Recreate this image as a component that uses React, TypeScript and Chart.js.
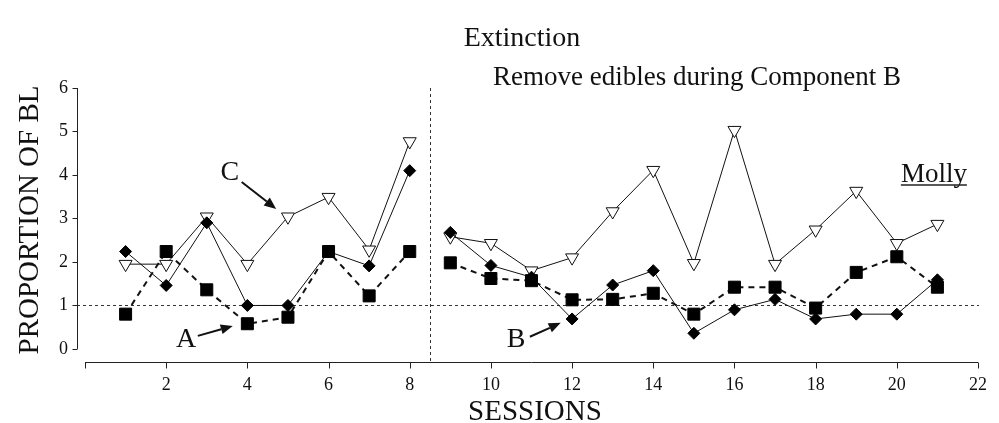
import React, { useEffect, useRef } from 'react';
import { Chart, registerables } from 'chart.js';

Chart.register(...registerables);

const sessions = [1, 2, 3, 4, 5, 6, 7, 8, 9, 10, 11, 12, 13, 14, 15, 16, 17, 18, 19, 20, 21];
const diamondValues = [2.24, 1.46, 2.9, 1.0, 1.0, 2.24, 1.91, 4.1, 2.68, 1.92, 1.65, 0.69, 1.47, 1.8, 0.36, 0.9, 1.14, 0.69, 0.8, 0.8, 1.59];
const squareValues = [0.8, 2.24, 1.36, 0.58, 0.73, 2.24, 1.22, 2.24, 1.98, 1.62, 1.57, 1.13, 1.14, 1.28, 0.8, 1.42, 1.42, 0.94, 1.76, 2.12, 1.42];
const triangleValues = [1.95, 1.95, 3.04, 1.95, 3.04, 3.49, 2.28, 4.77, 2.58, 2.43, 1.8, 2.1, 3.16, 4.11, 1.97, 5.03, 1.95, 2.74, 3.63, 2.43, 2.87];
const phaseOneCount = 8;
const phaseBreak = 8.5;
const criterionLine = 1;
const xTickValues = [0, 2, 4, 6, 8, 10, 12, 14, 16, 18, 20, 22];
const yTickValues = [0, 1, 2, 3, 4, 5, 6];

const SERIF = "'Liberation Serif', 'Times New Roman', serif";

function toPoints(values: number[], start: number, end: number) {
  return sessions.slice(start, end).map((s, i) => ({ x: s, y: values[start + i] }));
}

function drawArrow(ctx: CanvasRenderingContext2D, x1: number, y1: number, x2: number, y2: number) {
  const ang = Math.atan2(y2 - y1, x2 - x1);
  const head = 12;
  const half = 5;
  const bx = x2 - head * Math.cos(ang);
  const by = y2 - head * Math.sin(ang);
  ctx.save();
  ctx.strokeStyle = '#111';
  ctx.fillStyle = '#111';
  ctx.lineWidth = 2;
  ctx.beginPath();
  ctx.moveTo(x1, y1);
  ctx.lineTo(bx, by);
  ctx.stroke();
  ctx.beginPath();
  ctx.moveTo(x2, y2);
  ctx.lineTo(bx + half * Math.sin(ang), by - half * Math.cos(ang));
  ctx.lineTo(bx - half * Math.sin(ang), by + half * Math.cos(ang));
  ctx.closePath();
  ctx.fill();
  ctx.restore();
}

const decorPlugin = {
  id: 'decor',
  beforeDatasetsDraw(chart: any) {
    const { ctx, chartArea, scales } = chart;
    const xs = scales.x;
    const ys = scales.y;
    ctx.save();
    ctx.strokeStyle = '#333';
    ctx.lineWidth = 1;
    ctx.setLineDash([3, 3]);
    const yc = Math.round(ys.getPixelForValue(criterionLine)) + 0.5;
    ctx.beginPath();
    ctx.moveTo(chartArea.left - 8, yc);
    ctx.lineTo(xs.getPixelForValue(22) + 1, yc);
    ctx.stroke();
    const xb = Math.round(xs.getPixelForValue(phaseBreak)) + 0.5;
    ctx.beginPath();
    ctx.moveTo(xb, chartArea.top);
    ctx.lineTo(xb, chartArea.bottom);
    ctx.stroke();
    ctx.restore();
  },
  afterDraw(chart: any) {
    const { ctx, chartArea, scales } = chart;
    const xs = scales.x;
    const ys = scales.y;
    const px = (v: number) => xs.getPixelForValue(v);
    const py = (v: number) => ys.getPixelForValue(v);
    ctx.save();
    ctx.strokeStyle = '#222';
    ctx.lineWidth = 1;
    ctx.setLineDash([]);
    // y axis
    const ax = Math.round(chartArea.left - 8) + 0.5;
    ctx.beginPath();
    ctx.moveTo(ax, py(0));
    ctx.lineTo(ax, py(6));
    yTickValues.forEach((v) => {
      const y = Math.round(py(v)) + 0.5;
      ctx.moveTo(ax - 5, y);
      ctx.lineTo(ax, y);
    });
    ctx.stroke();
    // x axis
    const ay = Math.round(chartArea.bottom) + 0.5;
    ctx.beginPath();
    ctx.moveTo(px(0), ay);
    ctx.lineTo(px(22), ay);
    xTickValues.forEach((v) => {
      const x = Math.round(px(v)) + 0.5;
      ctx.moveTo(x, ay);
      ctx.lineTo(x, ay + 6);
    });
    ctx.stroke();

    ctx.fillStyle = '#111';
    ctx.textAlign = 'center';
    ctx.textBaseline = 'alphabetic';
    ctx.font = `28px ${SERIF}`;
    ctx.fillText('Extinction', 522, 46);
    ctx.font = `27px ${SERIF}`;
    ctx.fillText('Remove edibles during Component B', 697, 85);
    ctx.font = `29px ${SERIF}`;
    ctx.fillText('SESSIONS', 535, 420);

    ctx.save();
    ctx.translate(38, 220);
    ctx.rotate(-Math.PI / 2);
    ctx.fillText('PROPORTION OF BL', 0, 0);
    ctx.restore();

    // Molly
    ctx.textAlign = 'left';
    ctx.font = `27px ${SERIF}`;
    const mollyX = px(20.1);
    const mollyY = py(3.85);
    ctx.fillText('Molly', mollyX, mollyY);
    const mw = ctx.measureText('Molly').width;
    ctx.lineWidth = 1.5;
    ctx.beginPath();
    ctx.moveTo(mollyX, mollyY + 3.5);
    ctx.lineTo(mollyX + mw, mollyY + 3.5);
    ctx.stroke();

    // letters and arrows
    ctx.textAlign = 'center';
    ctx.textBaseline = 'middle';
    ctx.font = `28px ${SERIF}`;
    ctx.fillText('C', px(3.57), py(4.05));
    ctx.fillText('A', px(2.49), py(0.21));
    ctx.fillText('B', px(10.62), py(0.21));
    ctx.restore();
    drawArrow(ctx, px(3.86), py(3.84), px(4.71), py(3.22));
    drawArrow(ctx, px(2.78), py(0.3), px(3.64), py(0.53));
    drawArrow(ctx, px(10.96), py(0.28), px(11.72), py(0.6));
  },
};

export default function App() {
  const ref = useRef<HTMLCanvasElement | null>(null);
  useEffect(() => {
    if (!ref.current) return;
    const triStyle = {
      borderColor: '#111',
      borderWidth: 1,
      pointStyle: 'triangle',
      rotation: 180,
      pointRadius: 7.5,
      pointBackgroundColor: '#fff',
      pointBorderColor: '#111',
      pointBorderWidth: 1,
      order: 3,
    };
    const diaStyle = {
      borderColor: '#111',
      borderWidth: 1,
      pointStyle: 'rectRot',
      pointRadius: 6,
      pointBackgroundColor: '#000',
      pointBorderColor: '#000',
      pointBorderWidth: 1,
      order: 2,
    };
    const sqStyle = {
      borderColor: '#111',
      borderWidth: 2,
      borderDash: [6, 5],
      pointStyle: 'rect',
      pointRadius: 8.5,
      pointBackgroundColor: '#000',
      pointBorderColor: '#000',
      pointBorderWidth: 1,
      order: 1,
    };
    const n = sessions.length;
    const chart = new Chart(ref.current, {
      type: 'line',
      data: {
        datasets: [
          { label: 'C1', data: toPoints(triangleValues, 0, phaseOneCount), ...triStyle },
          { label: 'C2', data: toPoints(triangleValues, phaseOneCount, n), ...triStyle },
          { label: 'D1', data: toPoints(diamondValues, 0, phaseOneCount), ...diaStyle },
          { label: 'D2', data: toPoints(diamondValues, phaseOneCount, n), ...diaStyle },
          { label: 'S1', data: toPoints(squareValues, 0, phaseOneCount), ...sqStyle },
          { label: 'S2', data: toPoints(squareValues, phaseOneCount, n), ...sqStyle },
        ] as any,
      },
      options: {
        responsive: false,
        animation: false,
        clip: false as any,
        layout: { padding: { top: 88, right: 13, left: 0, bottom: 0 } },
        elements: { line: { tension: 0, fill: false } },
        plugins: { legend: { display: false }, tooltip: { enabled: false }, title: { display: false } },
        scales: {
          x: {
            type: 'linear',
            min: 0,
            max: 22,
            grid: { display: false, drawTicks: false },
            border: { display: false },
            afterBuildTicks: (s: any) => {
              s.ticks = xTickValues.map((v) => ({ value: v }));
            },
            afterFit: (s: any) => {
              s.height = 61;
            },
            ticks: {
              autoSkip: false,
              maxRotation: 0,
              padding: 12,
              color: '#111',
              font: { family: SERIF, size: 18 },
              callback: (v: any) => (Number(v) === 0 ? '' : String(v)),
            },
          },
          y: {
            type: 'linear',
            min: -0.3,
            max: 6,
            grid: { display: false, drawTicks: false },
            border: { display: false },
            afterBuildTicks: (s: any) => {
              s.ticks = yTickValues.map((v) => ({ value: v }));
            },
            afterFit: (s: any) => {
              s.width = 85;
            },
            ticks: {
              padding: 17,
              color: '#111',
              font: { family: SERIF, size: 18 },
              callback: (v: any) => String(v),
            },
          },
        },
      } as any,
      plugins: [decorPlugin],
    });
    return () => chart.destroy();
  }, []);
  return (
    <div style={{ position: 'fixed', left: 0, top: 0, width: 999, height: 423, background: '#fff' }}>
      <canvas ref={ref} width={999} height={423} style={{ width: 999, height: 423, display: 'block' }} />
    </div>
  );
}
